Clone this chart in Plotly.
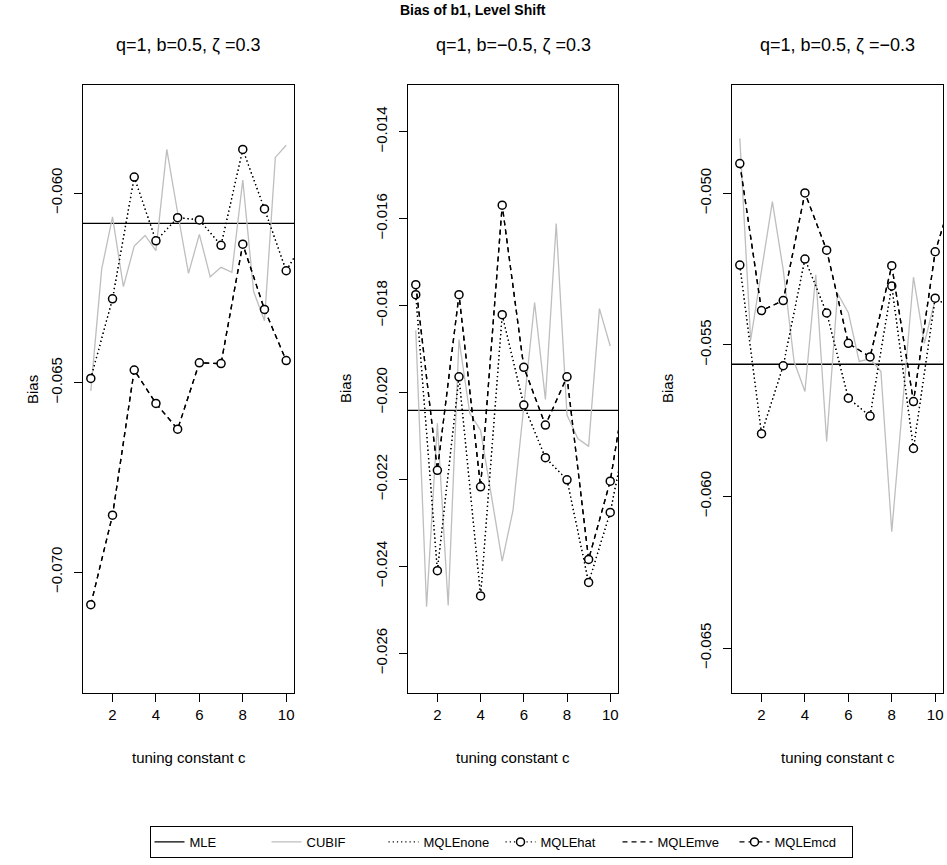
import plotly.graph_objects as go

# ---------------- data ----------------
x_c = [1, 2, 3, 4, 5, 6, 7, 8, 9, 10]
x_ext = [1, 2, 3, 4, 5, 6, 7, 8, 9, 10, 11]
x_cubif = [1, 1.5, 2, 2.5, 3, 3.5, 4, 4.5, 5, 5.5, 6, 6.5, 7, 7.5, 8, 8.5, 9, 9.5, 10]

titles = ["q=1, b=0.5, \u03b6 =0.3", "q=1, b=\u22120.5, \u03b6 =0.3", "q=1, b=0.5, \u03b6 =\u22120.3"]

mle = [-0.0608, -0.02041, -0.05564]

cubif_1 = [-0.06522, -0.06201, -0.06063, -0.06247, -0.06140, -0.06112, -0.06152, -0.05885, -0.06052,
           -0.06212, -0.06109, -0.06221, -0.06196, -0.06209, -0.05966, -0.06260, -0.06337, -0.05906, -0.05874]
cubif_2 = [-0.01857, -0.02493, -0.02071, -0.02490, -0.01878, -0.02048, -0.02087, -0.02236, -0.02388,
           -0.02271, -0.02025, -0.01793, -0.02016, -0.01611, -0.02052, -0.02106, -0.02124, -0.01807, -0.01893]
cubif_3 = [-0.04819, -0.05484, -0.05255, -0.05028, -0.05253, -0.05555, -0.05654, -0.05269, -0.05819,
           -0.05330, -0.05394, -0.05555, -0.05546, -0.05588, -0.06116, -0.05682, -0.05277, -0.05495, -0.05350]

hat_1 = [-0.06489, -0.06279, -0.05958, -0.06126, -0.06065, -0.06071, -0.06138, -0.05885, -0.06042, -0.06205, -0.06110]
hat_2 = [-0.01775, -0.02410, -0.01964, -0.02468, -0.01821, -0.02029, -0.02150, -0.02201, -0.02437, -0.02276, -0.02030]
hat_3 = [-0.05237, -0.05793, -0.05569, -0.05217, -0.05395, -0.05676, -0.05735, -0.05306, -0.05842, -0.05346, -0.05390]

none_1 = hat_1
none_2 = hat_2
none_3 = hat_3

mcd_1 = [-0.07086, -0.06850, -0.06467, -0.06555, -0.06623, -0.06448, -0.06450, -0.06135, -0.06307, -0.06442]
mcd_2 = [-0.01752, -0.02179, -0.01775, -0.02217, -0.01569, -0.01942, -0.02075, -0.01964, -0.02384, -0.02204, -0.01900]
mcd_3 = [-0.04902, -0.05387, -0.05354, -0.04999, -0.05188, -0.05495, -0.05540, -0.05239, -0.05687, -0.05193, -0.04960]

mve_1 = mcd_1
mve_2 = mcd_2
mve_3 = mcd_3

cubif = [cubif_1, cubif_2, cubif_3]
hat = [hat_1, hat_2, hat_3]
none_ = [none_1, none_2, none_3]
mcd = [mcd_1, mcd_2, mcd_3]
mve = [mve_1, mve_2, mve_3]

y_ranges = [[-0.07319, -0.05715], [-0.026914, -0.012925], [-0.066484, -0.04643]]
y_ticks = [[-0.070, -0.065, -0.060],
           [-0.026, -0.024, -0.022, -0.020, -0.018, -0.016, -0.014],
           [-0.065, -0.060, -0.055, -0.050]]
x_ticks = [2, 4, 6, 8, 10]

# ---------------- layout geometry ----------------
W, H = 947, 865
FONT = "Liberation Sans, Arial, Helvetica, sans-serif"
px_left = [83, 408, 732]
px_right = [294, 618, 943]
py_top, py_bot = 85, 693
ydom = [1 - py_bot / H, 1 - py_top / H]

GRAY = "#BEBEBE"
DOT = "1.2px,3px"
DASH = "5px,4px"

fig = go.Figure()

for i in range(3):
    xa = "x" if i == 0 else f"x{i+1}"
    ya = "y" if i == 0 else f"y{i+1}"
    show = (i == 0)
    fig.add_trace(go.Scatter(x=[0, 12], y=[mle[i], mle[i]], mode="lines", name="MLE",
                             line=dict(color="black", width=1.3), xaxis=xa, yaxis=ya,
                             showlegend=show, legendgroup="MLE"))
    fig.add_trace(go.Scatter(x=x_cubif, y=cubif[i], mode="lines", name="CUBIF",
                             line=dict(color=GRAY, width=1.3), xaxis=xa, yaxis=ya,
                             showlegend=show, legendgroup="CUBIF"))
    fig.add_trace(go.Scatter(x=x_ext[:len(none_[i])], y=none_[i], mode="lines", name="MQLEnone",
                             line=dict(color="black", width=1.3, dash=DOT), xaxis=xa, yaxis=ya,
                             showlegend=show, legendgroup="MQLEnone"))
    fig.add_trace(go.Scatter(x=x_ext[:len(hat[i])], y=hat[i], mode="lines+markers", name="MQLEhat",
                             line=dict(color="black", width=1.3, dash=DOT),
                             marker=dict(symbol="circle", size=8, color="white",
                                         line=dict(color="black", width=1.5)),
                             xaxis=xa, yaxis=ya, showlegend=show, legendgroup="MQLEhat"))
    fig.add_trace(go.Scatter(x=x_ext[:len(mve[i])], y=mve[i], mode="lines", name="MQLEmve",
                             line=dict(color="black", width=1.3, dash=DASH), xaxis=xa, yaxis=ya,
                             showlegend=show, legendgroup="MQLEmve"))
    fig.add_trace(go.Scatter(x=x_ext[:len(mcd[i])], y=mcd[i], mode="lines+markers", name="MQLEmcd",
                             line=dict(color="black", width=1.3, dash=DASH),
                             marker=dict(symbol="circle", size=8, color="white",
                                         line=dict(color="black", width=1.5)),
                             xaxis=xa, yaxis=ya, showlegend=show, legendgroup="MQLEmcd"))

axis_common = dict(showgrid=False, zeroline=False, showline=True, mirror=True,
                   linecolor="black", linewidth=1.2, ticks="outside", ticklen=8,
                   tickcolor="black", tickwidth=1.2,
                   tickfont=dict(family=FONT, size=15, color="black"))

layout = dict(width=W, height=H, margin=dict(l=0, r=0, t=0, b=0),
              paper_bgcolor="white", plot_bgcolor="white",
              font=dict(family=FONT, color="black"))

annotations = []
for i in range(3):
    xk = "xaxis" if i == 0 else f"xaxis{i+1}"
    yk = "yaxis" if i == 0 else f"yaxis{i+1}"
    xd = [px_left[i] / W, px_right[i] / W]
    layout[xk] = dict(domain=xd, range=[0.64, 10.36], tickvals=x_ticks,
                      anchor="y" if i == 0 else f"y{i+1}", **axis_common)
    layout[yk] = dict(domain=ydom, range=y_ranges[i], tickvals=y_ticks[i], tickformat=".3f",
                      tickangle=-90, ticklabelstandoff=6,
                      anchor="x" if i == 0 else f"x{i+1}", **axis_common)
    cx = (px_left[i] + px_right[i]) / 2 / W
    annotations.append(dict(text=titles[i], x=cx, y=1 - 45 / H, xref="paper", yref="paper",
                            showarrow=False, font=dict(family=FONT, size=18, color="black"),
                            xanchor="center", yanchor="middle"))
    annotations.append(dict(text="tuning constant c", x=cx, y=1 - 757 / H, xref="paper", yref="paper",
                            showarrow=False, font=dict(family=FONT, size=15, color="black"),
                            xanchor="center", yanchor="middle"))
    bias_x = [32, 345, 667][i]
    annotations.append(dict(text="Bias", x=bias_x / W, y=1 - 389 / H, xref="paper", yref="paper",
                            showarrow=False, textangle=-90,
                            font=dict(family=FONT, size=15, color="black"),
                            xanchor="center", yanchor="middle"))

annotations.append(dict(text="<b>Bias of b1, Level Shift</b>", x=473 / W, y=1 - 10 / H,
                        xref="paper", yref="paper", showarrow=False,
                        font=dict(family=FONT, size=14, color="black"),
                        xanchor="center", yanchor="middle"))
layout["annotations"] = annotations
layout["legend"] = dict(orientation="h", x=501 / W, xanchor="center", y=1 - 826 / H, yanchor="top",
                        bordercolor="black", borderwidth=1, bgcolor="white",
                        font=dict(family=FONT, size=13, color="black"),
                        entrywidth=72, itemwidth=30, tracegroupgap=0)

fig.update_layout(**layout)
fig.write_html("out.html")
